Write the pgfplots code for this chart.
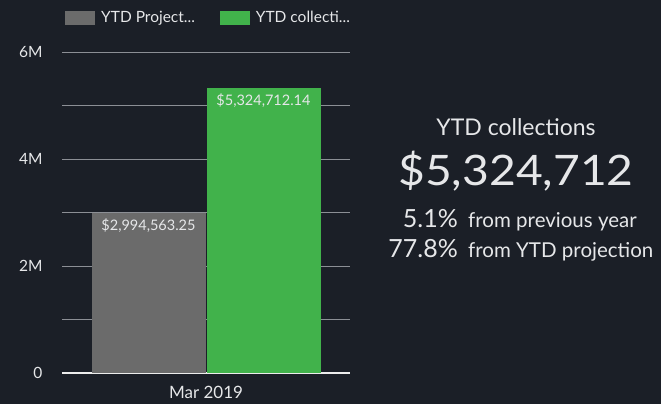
\documentclass[border=0pt]{standalone}
\usepackage{pgfplots}
\pgfplotsset{compat=1.18}
\usepackage{fontspec}
\setmainfont{Lato}
\definecolor{bg}{HTML}{1B1F27}
\definecolor{barGray}{HTML}{6B6B6B}
\definecolor{barGreen}{HTML}{41B24B}
\definecolor{gridc}{HTML}{8C8F95}
\definecolor{txt}{HTML}{E6E7E9}
\begin{document}
\begin{tikzpicture}[x=1bp,y=1bp]
\fill[bg] (0,0) rectangle (661,404);
\begin{axis}[
  at={(62bp,31bp)}, anchor=south west,
  scale only axis, width=288bp, height=321bp,
  xmin=0, xmax=1, ymin=0, ymax=6000000,
  axis line style={draw=none},
  major tick length=0pt, minor tick length=0pt,
  ytick={2000000,4000000,6000000},
  yticklabels={2M,4M,6M},
  minor ytick={1000000,3000000,5000000},
  extra y ticks={0}, extra y tick labels={0},
  extra y tick style={grid=major, major grid style={draw=white!85!gray, line width=1.3pt}},
  ymajorgrids, yminorgrids,
  major grid style={draw=gridc, line width=0.9pt},
  minor grid style={draw=gridc, line width=0.9pt},
  xtick={0.5}, xticklabels={Mar 2019},
  scaled y ticks=false,
  yticklabel style={anchor=east, xshift=-16bp, font=\fontsize{15.5bp}{17bp}\selectfont, text=txt},
  xticklabel style={yshift=-10bp, font=\fontsize{17bp}{19bp}\selectfont, text=txt},
  legend style={at={(0,1.1059)}, anchor=west, draw=none, fill=none,
    font=\fontsize{15.5bp}{17bp}\selectfont, text=txt, legend columns=2,
    /tikz/every odd column/.style={column sep=4bp},
    /tikz/every even column/.style={column sep=23bp}},
  legend image code/.code={\fill[#1] (0bp,-7bp) rectangle (30bp,7bp);},
  nodes near coords,
  point meta=explicit symbolic,
  every node near coord/.append style={anchor=north, yshift=-2bp, text=txt, font=\fontsize{14.5bp}{16bp}\selectfont},
]
\addplot[ybar, bar width=114bp, bar shift=-57.5bp, fill=barGray, draw=none,
  every node near coord/.append style={xshift=-57.5bp}]
  coordinates {(0.5,2994563.25) [\$2,994,563.25]};
\addlegendentry{YTD Project...}
\addplot[ybar, bar width=114bp, bar shift=57.5bp, fill=barGreen, draw=none,
  every node near coord/.append style={xshift=57.5bp}]
  coordinates {(0.5,5324712.14) [\$5,324,712.14]};
\addlegendentry{YTD collecti...}
\end{axis}
\node[anchor=base, text=txt, font=\fontsize{23bp}{26bp}\selectfont, inner sep=0pt] at (516,404-135) {YTD collections};
\node[anchor=base, text=txt, font=\fontsize{42bp}{46bp}\selectfont, inner sep=0pt, xscale=1.1] at (516,404-185) {\$5,324,712};
\node[anchor=base east, text=txt, font=\fontsize{25bp}{28bp}\selectfont, inner sep=0pt] at (458,404-227) {5.1\%};
\node[anchor=base west, text=txt, font=\fontsize{20.5bp}{22bp}\selectfont, inner sep=0pt] at (468,404-227) {from previous year};
\node[anchor=base east, text=txt, font=\fontsize{25bp}{28bp}\selectfont, inner sep=0pt] at (458,404-257) {77.8\%};
\node[anchor=base west, text=txt, font=\fontsize{20.5bp}{22bp}\selectfont, inner sep=0pt] at (468,404-257) {from YTD projection};
\end{tikzpicture}
\end{document}
